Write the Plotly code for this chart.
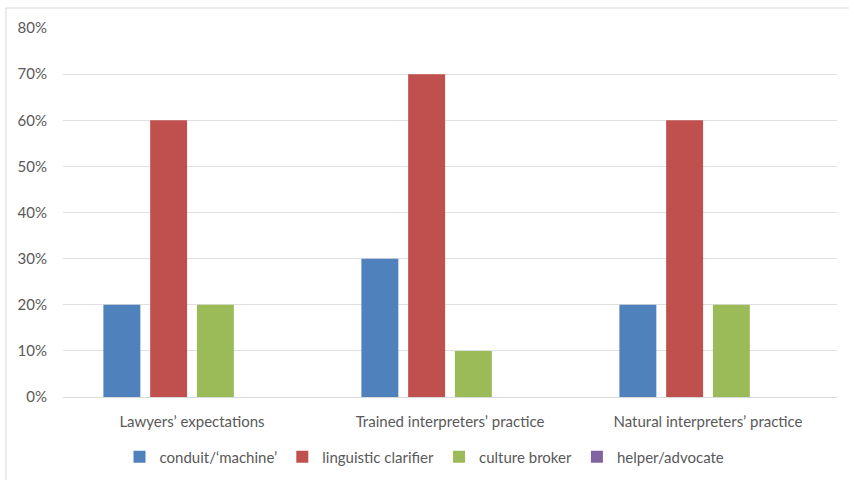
import plotly.graph_objects as go

categories = ["Lawyers’ expectations", "Trained interpreters’ practice", "Natural interpreters’ practice"]
series_names = ["conduit/‘machine’", "linguistic clarifier", "culture broker", "helper/advocate"]
conduit = [0.20, 0.30, 0.20]
clarifier = [0.60, 0.70, 0.60]
broker = [0.20, 0.10, 0.20]
helper = [0.0, 0.0, 0.0]
colors = ["#4F81BD", "#C0504D", "#9BBB59", "#8064A2"]
y_ticks = [0, 0.1, 0.2, 0.3, 0.4, 0.5, 0.6, 0.7, 0.8]

FONT = "Lato"
FS = 15
fig = go.Figure()
for name, vals, col in zip(series_names, [conduit, clarifier, broker, helper], colors):
    fig.add_trace(go.Bar(name=name, x=categories, y=vals, marker=dict(color=col, line=dict(width=0))))

L, R, T, B = 63, 12, 28, 83
W, H = 849, 480
pw, ph = W - L - R, H - T - B

fig.update_layout(
    width=W, height=H,
    margin=dict(l=L, r=R, t=T, b=B, pad=0, autoexpand=False),
    paper_bgcolor="white", plot_bgcolor="white",
    barmode="group", bargap=0.275, bargroupgap=0.21,
    font=dict(family=FONT, size=FS, color="#595959"),
    showlegend=True,
    legend=dict(orientation="h", x=0.5, xanchor="center", xref="container",
                y=1 - 457 / H, yanchor="middle", yref="container",
                font=dict(family=FONT, size=FS, color="#595959"), itemwidth=30, traceorder="normal"),
    xaxis=dict(showgrid=False, showline=True, linecolor="#d9d9d9", linewidth=1, ticks="", automargin=False,
               ticklabelstandoff=11, tickfont=dict(family=FONT, size=FS, color="#595959")),
    yaxis=dict(range=[0, 0.8], tickvals=y_ticks, tickformat=".0%", showgrid=True, gridcolor="#e0e0e0",
               gridwidth=1, zeroline=False, showline=False, ticks="", ticklabelstandoff=15, automargin=False,
               tickfont=dict(family=FONT, size=FS, color="#595959")),
    shapes=[
        dict(type="line", xref="paper", yref="paper", x0=(6 - L) / pw, x1=(6 - L) / pw,
             y0=1 + (T - 8) / ph, y1=-(H - (H - B)) / ph, line=dict(color="#d9d9d9", width=1)),
        dict(type="line", xref="paper", yref="paper", x0=(6 - L) / pw, x1=(W - L) / pw,
             y0=1 + (T - 8) / ph, y1=1 + (T - 8) / ph, line=dict(color="#d9d9d9", width=1)),
    ],
)

fig.write_html("out.html")
